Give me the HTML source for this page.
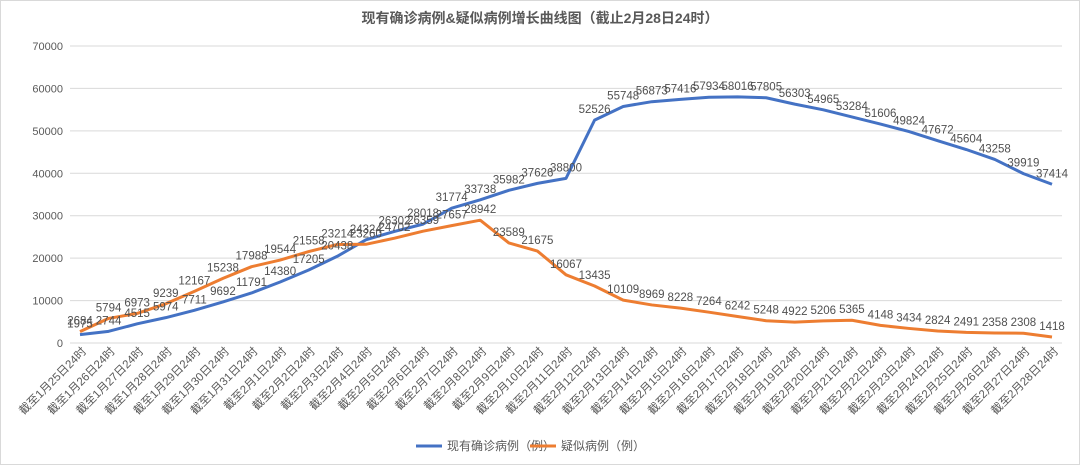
<!DOCTYPE html>
<html><head><meta charset="utf-8"><style>
html,body{margin:0;padding:0;background:#fff;}
svg{display:block;font-family:"Liberation Sans","Noto Sans CJK SC",sans-serif;}
</style></head><body>
<svg id="chart" width="1080" height="465" viewBox="0 0 1080 465">
<rect x="0.5" y="0.5" width="1079" height="464" fill="#fff" stroke="#d9d9d9"/>
<text x="540" y="23" text-anchor="middle" font-size="14" font-weight="bold" fill="#595959">现有确诊病例&amp;疑似病例增长曲线图（截止2月28日24时）</text>
<g id="grid"></g><g id="yt"></g><g id="xt"></g><g id="lines"></g><g id="labels"></g>
<g>
<line x1="416" y1="446" x2="442" y2="446" stroke="#4472C4" stroke-width="3"/>
<text x="447" y="450" font-size="12" fill="#595959">现有确诊病例（例）</text>
<line x1="530" y1="446" x2="556" y2="446" stroke="#ED7D31" stroke-width="3"/>
<text x="561" y="450" font-size="12" fill="#595959">疑似病例（例）</text>
</g>
</svg>
<script>
const categories=["1月25日","1月26日","1月27日","1月28日","1月29日","1月30日","1月31日","2月1日","2月2日","2月3日","2月4日","2月5日","2月6日","2月7日","2月8日","2月9日","2月10日","2月11日","2月12日","2月13日","2月14日","2月15日","2月16日","2月17日","2月18日","2月19日","2月20日","2月21日","2月22日","2月23日","2月24日","2月25日","2月26日","2月27日","2月28日"];
const confirmed=[1975,2744,4515,5974,7711,9692,11791,14380,17205,20438,24324,26302,28018,31774,33738,35982,37626,38800,52526,55748,56873,57416,57934,58016,57805,56303,54965,53284,51606,49824,47672,45604,43258,39919,37414];
const suspected=[2684,5794,6973,9239,12167,15238,17988,19544,21558,23214,23260,24702,26359,27657,28942,23589,21675,16067,13435,10109,8969,8228,7264,6242,5248,4922,5206,5365,4148,3434,2824,2491,2358,2308,1418];
const yTicks=[0,10000,20000,30000,40000,50000,60000,70000];
const NS="http://www.w3.org/2000/svg";
const x0=80,x1=1052,yb=343,yt=46,ymax=70000;
const X=i=>x0+(x1-x0)*i/(categories.length-1);
const Y=v=>yb-(yb-yt)*v/ymax;
function mk(tag,attrs,parent){const e=document.createElementNS(NS,tag);for(const k in attrs)e.setAttribute(k,attrs[k]);document.getElementById(parent).appendChild(e);return e;}
yTicks.forEach(t=>{
  const l=mk('line',{x1:70,x2:1062,y1:Y(t),y2:Y(t),stroke:'#d9d9d9','stroke-width':1},'grid');
  
  
  const tx=mk('text',{x:63,y:Y(t)+4,'text-anchor':'end','font-size':11,fill:'#595959'},'yt');
  tx.textContent=t;
  
  
});
categories.forEach((c,i)=>{
  const px=X(i)+7,py=352;
  const tx=mk('text',{x:px,y:py,'text-anchor':'end','font-size':11.5,fill:'#595959',transform:`rotate(-45 ${px} ${py})`},'xt');
  tx.textContent='截至'+c+'24时';
  
  
});
function series(vals,color,name){
  const p=mk('polyline',{points:vals.map((v,i)=>X(i)+','+Y(v)).join(' '),fill:'none',stroke:color,'stroke-width':3,'stroke-linejoin':'round'},'lines');
  
  
  vals.forEach((v,i)=>{
    const t=mk('text',{x:X(i),y:Y(v)-7,'text-anchor':'middle','font-size':11.5,fill:'#505050'},'labels');
    t.textContent=v;
    
    
  });
}
series(confirmed,'#4472C4','confirmed');
series(suspected,'#ED7D31','suspected');
</script>
</body></html>
